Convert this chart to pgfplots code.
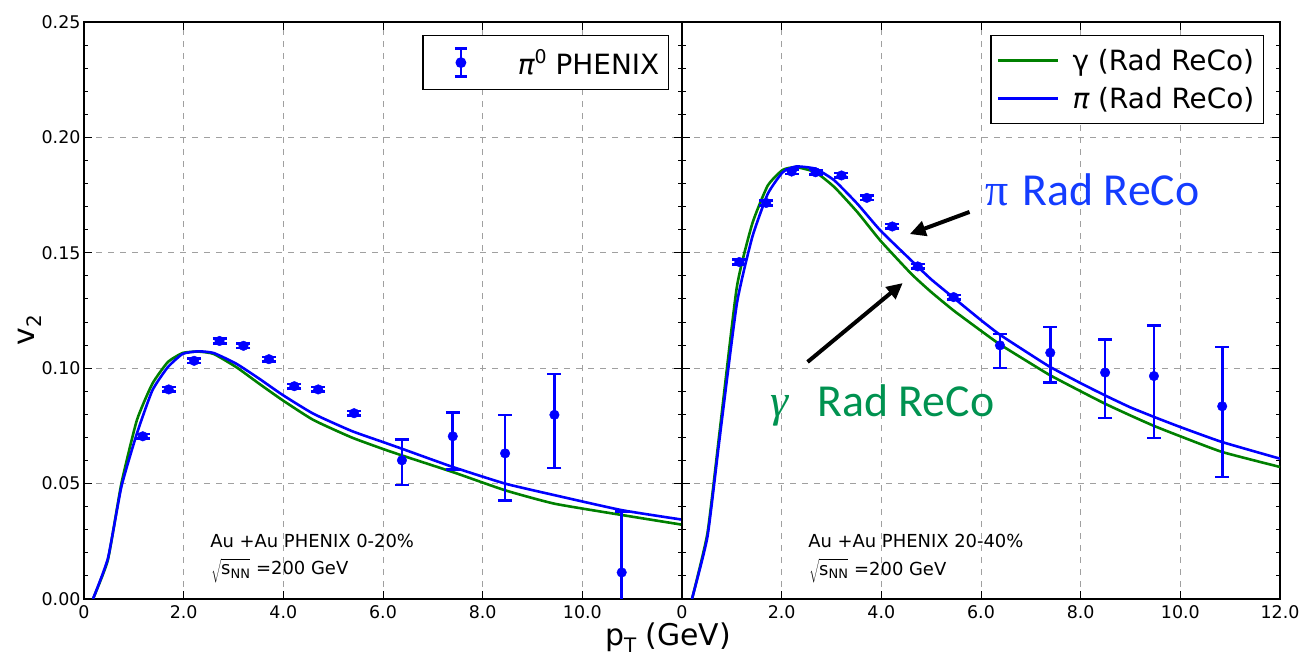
\documentclass[border=0pt]{standalone}
\usepackage{pgfplots}
\pgfplotsset{compat=1.18}
\usepackage{pgfplotstable}
\usepackage{fontspec}
\setmainfont{DejaVu Sans}
\newfontfamily\calib{Carlito}
\newfontfamily\serifg{Liberation Serif}
\usetikzlibrary{arrows.meta}
\definecolor{mplblue}{RGB}{0,0,255}
\definecolor{mplgreen}{RGB}{0,128,0}
\definecolor{annblue}{RGB}{20,60,255}
\definecolor{anngreen}{RGB}{0,146,80}
\definecolor{gridgray}{RGB}{160,160,160}

% ---- left panel (0-20%) ----
\pgfplotstableread{
x y ep em
1.18 0.0705 0.001 0.001
1.70 0.0908 0.001 0.001
2.21 0.1032 0.001 0.001
2.72 0.1118 0.001 0.001
3.20 0.1097 0.001 0.001
3.71 0.1039 0.001 0.001
4.22 0.0922 0.001 0.001
4.70 0.0908 0.001 0.001
5.42 0.0805 0.001 0.001
6.38 0.0601 0.0091 0.0107
7.40 0.0705 0.0102 0.0143
8.45 0.0631 0.0167 0.0203
9.44 0.0798 0.0176 0.0230
10.79 0.0115 0.0263 0.0263
}\leftpts
\pgfplotstableread{
x y
0.18 0
0.48 0.0176
0.75 0.0486
1.06 0.0716
1.37 0.0903
1.68 0.1004
1.98 0.1062
2.29 0.1073
2.60 0.1066
3.06 0.1019
3.52 0.0954
3.98 0.0885
4.60 0.0803
5.37 0.0728
6.00 0.0680
6.38 0.0651
7.40 0.0572
8.45 0.0500
9.44 0.0450
10.79 0.0385
12.00 0.0344
}\leftpi
\pgfplotstableread{
x y
0.18 0
0.48 0.0170
0.75 0.0500
1.06 0.0774
1.37 0.0932
1.68 0.1026
1.98 0.1066
2.29 0.1072
2.60 0.1062
3.06 0.1004
3.52 0.0932
3.98 0.0862
4.60 0.0776
5.37 0.0700
6.00 0.0650
6.38 0.0622
7.40 0.0550
8.45 0.0471
9.44 0.0413
10.79 0.0364
12.00 0.0322
}\leftgam
% ---- right panel (20-40%) ----
\pgfplotstableread{
x y ep em
1.15 0.1460 0.001 0.001
1.69 0.1716 0.001 0.001
2.20 0.1852 0.001 0.001
2.68 0.1849 0.001 0.001
3.20 0.1835 0.001 0.001
3.71 0.1738 0.001 0.001
4.22 0.1614 0.001 0.001
4.73 0.1441 0.001 0.001
5.45 0.1308 0.001 0.001
6.38 0.1099 0.0050 0.0098
7.39 0.1067 0.0111 0.0130
8.49 0.0981 0.0144 0.0197
9.47 0.0966 0.0219 0.0268
10.84 0.0835 0.0257 0.0306
}\rightpts
\pgfplotstableread{
x y
0.20 0
0.51 0.0269
0.75 0.0688
1.10 0.1279
1.41 0.1568
1.72 0.1755
2.02 0.1849
2.29 0.1874
2.68 0.1864
3.06 0.1813
3.52 0.1712
3.98 0.1597
4.60 0.1467
5.00 0.1385
5.45 0.1305
6.00 0.1208
6.38 0.1145
7.00 0.1058
7.39 0.1005
8.00 0.0935
8.49 0.0882
9.00 0.0830
9.47 0.0789
10.00 0.0745
10.84 0.0680
12.00 0.0608
}\rightpi
\pgfplotstableread{
x y
0.20 0
0.51 0.0284
0.75 0.0716
1.10 0.1351
1.41 0.1626
1.72 0.1791
2.02 0.1859
2.29 0.1871
2.68 0.1849
3.06 0.1784
3.52 0.1676
3.98 0.1553
4.60 0.1409
5.00 0.1330
5.45 0.1250
6.00 0.1162
6.38 0.1103
7.00 0.1020
7.39 0.0969
8.00 0.0900
8.49 0.0846
9.00 0.0795
9.47 0.0750
10.00 0.0705
10.84 0.0637
12.00 0.0572
}\rightgam

\pgfplotsset{
  panel/.style={
    scale only axis, width=598bp, height=577bp,
    xmin=0, xmax=12, ymin=0, ymax=0.25,
    xtick={0,2,4,6,8,10,12},
    ytick={0,0.05,0.1,0.15,0.2,0.25},
    minor y tick num=4,
    tick align=inside, major tick length=8bp, minor tick length=4bp,
    grid=major,
    major grid style={gridgray, dash pattern=on 6bp off 6bp, line width=0.8bp},
    axis line style={line width=1.3bp},
    every tick/.style={black, line width=1bp},
    tick label style={font=\fontsize{17.5}{20}\selectfont},
    /pgf/number format/assume math mode=true,
    yticklabel style={/pgf/number format/.cd, fixed, fixed zerofill, precision=2},
    xticklabel style={yshift=-3bp},
    legend cell align=left,
    legend style={draw=black, line width=1.2bp, font=\fontsize{28}{33}\selectfont,
      inner xsep=6bp, inner ysep=7.5bp, row sep=3bp,
      nodes={inner xsep=3bp, inner ysep=6bp},
      /tikz/every odd column/.append style={column sep=10bp}},
  },
  curve/.style={line width=2.6bp, mark=none, smooth, tension=0.3},
  pts/.style={only marks, mark=*, mark size=4.8bp, color=mplblue,
    error bars/y dir=both, error bars/y explicit,
    error bars/error bar style={mplblue, line width=2.6bp},
    error bars/error mark options={rotate=90, mark size=7bp, line width=2.6bp, mplblue}},
  ebimage/.style={legend image code/.code={
    \path[draw=none, fill=none] (0bp,-15bp) rectangle (76bp,15bp);
    \draw[mplblue, line width=2.6bp] (32bp,-14bp) -- (32bp,14bp)
      (26bp,-14bp) -- (38bp,-14bp) (26bp,14bp) -- (38bp,14bp);
    \fill[mplblue] (32bp,0bp) circle (4.8bp);}},
  lineimage/.style={legend image code/.code={
    \draw[##1] (0bp,0bp) -- (60bp,0bp);}},
}

\newcommand{\snn}{$\sqrt{\hbox{s}_{\hbox{\fontsize{13}{15}\selectfont NN}}\rule[-6bp]{0pt}{19bp}}$}

\begin{document}
\begin{tikzpicture}
\useasboundingbox (-84bp,-61bp) rectangle (1219bp,599bp);
\begin{axis}[panel, at={(0bp,0bp)}, anchor=south west,
  xticklabels={0,2.0,4.0,6.0,8.0,10.0,{}},
  legend style={at={(0.978,0.977)}, anchor=north east}]
\addplot[curve, mplgreen, forget plot] table[x=x,y=y]{\leftgam};
\addplot[curve, mplblue, forget plot] table[x=x,y=y]{\leftpi};
\addplot[ebimage, pts] table[x=x,y=y,y error plus=ep,y error minus=em]{\leftpts};
\addlegendentry{{\itshape π}\raisebox{11bp}{\fontsize{19}{20}\selectfont 0} PHENIX}
\node[anchor=base west, font=\fontsize{18}{20}\selectfont, inner sep=1bp] at (axis cs:2.51,0.0224) {Au +Au PHENIX 0-20\%};
\node[anchor=base west, font=\fontsize{18}{20}\selectfont, inner sep=1bp] at (axis cs:2.53,0.0105) {\snn\ =200 GeV};
\end{axis}
\begin{axis}[panel, at={(598bp,0bp)}, anchor=south west,
  xticklabels={0,2.0,4.0,6.0,8.0,10.0,12.0},
  yticklabels={},
  legend style={at={(0.973,0.977)}, anchor=north east}]
\addplot[curve, mplgreen, lineimage] table[x=x,y=y]{\rightgam};
\addlegendentry{γ (Rad ReCo)}
\addplot[curve, mplblue, lineimage] table[x=x,y=y]{\rightpi};
\addlegendentry{{\itshape π} (Rad ReCo)}
\addplot[pts, forget plot] table[x=x,y=y,y error plus=ep,y error minus=em]{\rightpts};
\node[anchor=base west, font=\fontsize{18}{20}\selectfont, inner sep=1bp] at (axis cs:2.51,0.0222) {Au +Au PHENIX 20-40\%};
\node[anchor=base west, font=\fontsize{18}{20}\selectfont, inner sep=1bp] at (axis cs:2.53,0.0103) {\snn\ =200 GeV};
\node[anchor=base west, text=annblue, font=\fontsize{46}{50}\selectfont] at (axis cs:6.01,0.1707) {{\serifg π} {\calib Rad ReCo}};
\node[anchor=base west, text=anngreen, font=\fontsize{46}{50}\selectfont] at (axis cs:1.70,0.0789) {{\serifg\itshape γ}\ \ {\calib Rad ReCo}};
\draw[-{Triangle[length=16bp,width=15bp]}, line width=4bp, black] (axis cs:5.77,0.1677) -- (axis cs:4.57,0.1581);
\draw[-{Triangle[length=16bp,width=15bp]}, line width=4bp, black] (axis cs:2.52,0.1027) -- (axis cs:4.43,0.1369);
\end{axis}
\node[rotate=90, font=\fontsize{30}{34}\selectfont] at (-54bp,269bp) {v\raisebox{-7bp}{\fontsize{20}{24}\selectfont 2}};
\node[anchor=base, font=\fontsize{30}{34}\selectfont] at (584bp,-46bp) {p\raisebox{-7bp}{\fontsize{20}{24}\selectfont T} (GeV)};
\end{tikzpicture}
\end{document}
